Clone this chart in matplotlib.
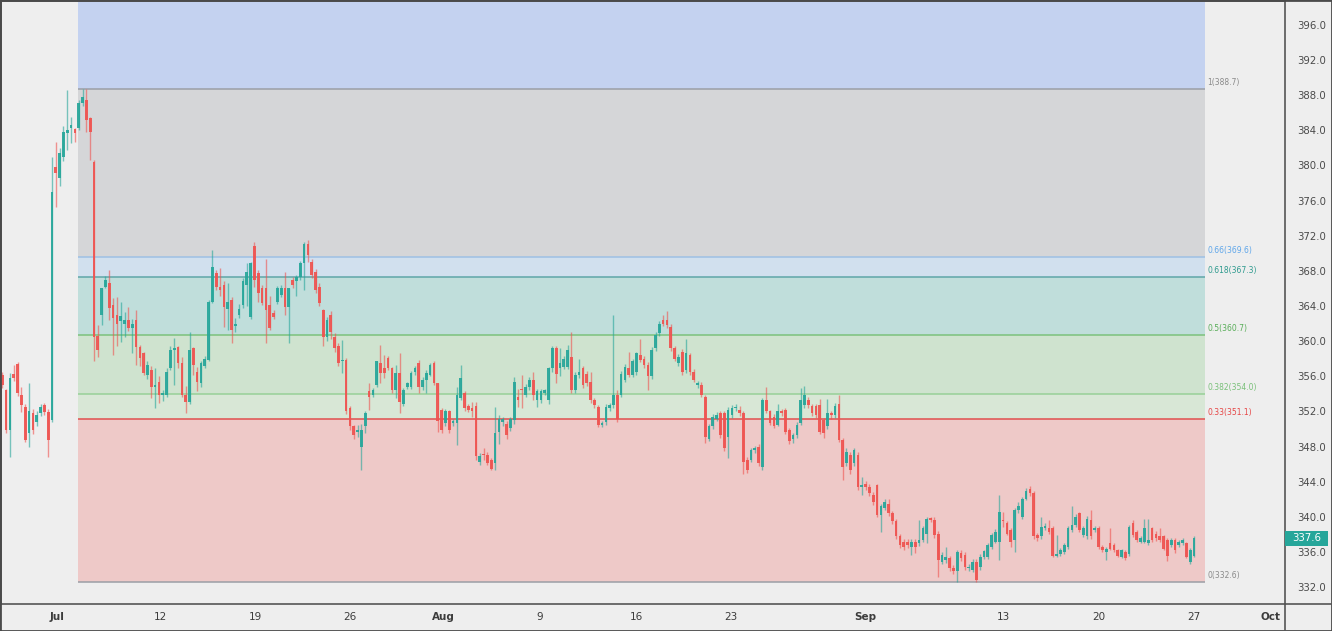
import numpy as np
import matplotlib.pyplot as plt
import matplotlib.transforms as mtransforms
from matplotlib.lines import Line2D
from matplotlib.patches import Rectangle

plt.rcParams['font.family'] = 'DejaVu Sans'

# 313 intraday candles, 1 Jul - 27 Sep
opens = [
    356.1, 354.4, 349.9, 356.3, 357.4, 353.9, 352.5, 349.6, 351.8, 350.8,
    351.8, 352.7, 351.9, 351.0, 379.8, 378.6, 381.0, 383.7, 384.3, 384.1,
    384.3, 387.1, 387.4, 385.4, 380.4, 360.6, 363.0, 366.2, 366.6, 364.1,
    363.0, 362.3, 362.0, 362.4, 361.5, 362.4, 359.3, 358.6, 356.2, 356.7,
    354.8, 355.3, 353.9, 353.9, 356.9, 359.0, 359.3, 357.5, 353.9, 353.1,
    359.2, 356.5, 355.2, 357.2, 357.9, 364.5, 367.7, 366.2, 366.4, 363.7,
    364.7, 361.7, 363.0, 364.1, 366.4, 362.8, 370.8, 367.7, 366.0, 366.0,
    364.1, 363.2, 364.5, 365.3, 366.0, 363.9, 367.0, 366.8, 367.3, 368.9,
    371.0, 369.0, 367.9, 366.2, 363.5, 360.5, 363.0, 360.5, 359.4, 357.7,
    357.9, 352.4, 350.3, 349.7, 348.0, 350.3, 354.3, 353.9, 355.0, 357.5,
    356.9, 358.1, 356.9, 354.5, 356.4, 352.9, 354.8, 354.8, 356.5, 357.5,
    354.8, 355.6, 356.2, 357.5, 355.2, 352.2, 350.7, 352.0, 350.7, 350.7,
    353.5, 354.1, 352.6, 352.4, 352.6, 346.3, 347.2, 347.0, 346.5, 346.1,
    349.7, 350.8, 350.6, 350.1, 351.0, 353.7, 354.6, 353.9, 354.8, 355.6,
    353.3, 353.3, 354.1, 353.3, 356.9, 359.2, 356.9, 357.1, 357.1, 358.2,
    354.4, 356.1, 356.9, 356.3, 355.4, 353.3, 352.5, 350.5, 350.8, 352.4,
    352.7, 353.9, 353.9, 355.6, 356.9, 356.2, 356.5, 358.4, 358.0, 357.3,
    356.0, 359.2, 360.9, 362.4, 362.4, 361.6, 359.2, 357.5, 358.8, 356.7,
    358.4, 356.5, 355.0, 355.0, 353.7, 348.9, 350.3, 351.2, 351.8, 351.8,
    349.1, 351.6, 352.4, 352.2, 351.8, 346.5, 346.5, 347.6, 348.0, 345.7,
    353.3, 352.0, 351.4, 350.5, 352.0, 352.2, 349.9, 348.9, 349.3, 350.7,
    352.7, 353.3, 352.6, 352.6, 352.7, 351.0, 350.3, 351.8, 351.6, 352.9,
    348.8, 346.1, 347.1, 346.1, 347.1, 343.4, 343.8, 343.4, 342.5, 343.6,
    340.2, 341.0, 341.5, 340.4, 339.5, 337.8, 337.2, 337.2, 336.6, 337.2,
    337.0, 337.4, 338.1, 339.8, 339.7, 338.1, 334.9, 335.1, 335.3, 334.2,
    333.8, 335.9, 335.7, 334.2, 334.0, 334.9, 334.3, 335.5, 335.5, 336.6,
    337.2, 337.2, 339.6, 339.3, 338.5, 337.4, 340.8, 340.0, 342.1, 343.2,
    342.7, 338.0, 337.8, 338.7, 338.7, 338.7, 335.6, 335.8, 336.0, 336.6,
    338.5, 339.1, 340.4, 338.0, 337.8, 339.6, 338.5, 338.7, 336.6, 336.0,
    337.0, 336.8, 336.2, 335.5, 336.0, 335.8, 339.3, 338.3, 337.2, 337.2,
    337.0, 338.7, 338.1, 337.8, 337.8, 337.4, 336.8, 337.4, 336.8, 337.0,
    337.0, 334.9, 335.6,
]
highs = [
    356.5, 354.6, 356.4, 357.3, 357.6, 354.8, 352.8, 355.2, 352.3, 352.0,
    352.8, 353.0, 352.3, 381.0, 382.7, 382.0, 384.5, 388.6, 385.5, 384.3,
    387.4, 388.7, 388.7, 385.5, 380.6, 361.8, 366.1, 367.4, 368.1, 364.9,
    365.0, 364.5, 363.3, 363.9, 362.5, 363.5, 359.6, 358.8, 357.7, 357.2,
    356.9, 356.0, 354.5, 356.9, 359.5, 360.4, 359.5, 358.2, 354.9, 361.0,
    359.3, 357.1, 357.7, 358.3, 364.7, 370.4, 368.1, 368.3, 366.8, 366.6,
    365.0, 362.6, 364.2, 367.2, 368.9, 369.0, 371.3, 368.1, 366.4, 369.4,
    365.1, 363.5, 366.3, 366.4, 367.9, 366.0, 367.3, 367.5, 369.1, 371.3,
    371.5, 369.4, 368.2, 366.6, 363.7, 362.8, 363.4, 360.9, 359.8, 360.1,
    358.1, 352.6, 350.5, 350.5, 350.6, 352.0, 355.2, 354.7, 357.7, 359.6,
    358.4, 358.3, 357.1, 357.3, 358.6, 354.7, 355.4, 356.6, 357.2, 357.9,
    355.9, 356.7, 357.5, 357.7, 355.2, 352.4, 352.3, 352.2, 351.2, 354.8,
    357.3, 354.3, 352.8, 353.1, 353.1, 347.3, 347.9, 347.4, 346.7, 352.5,
    351.6, 351.4, 350.9, 351.4, 355.9, 354.6, 356.1, 355.1, 355.9, 356.5,
    354.6, 354.6, 354.6, 357.1, 359.5, 359.5, 359.2, 358.3, 359.6, 361.1,
    356.5, 358.0, 357.2, 356.6, 356.5, 353.5, 352.7, 350.9, 352.8, 353.0,
    363.0, 354.4, 356.6, 357.4, 358.8, 358.0, 358.8, 360.3, 358.3, 357.6,
    359.3, 361.0, 362.3, 363.0, 363.4, 361.9, 359.5, 358.5, 359.1, 360.3,
    358.7, 356.8, 355.5, 355.3, 353.9, 350.6, 351.7, 351.9, 352.1, 352.1,
    352.5, 352.7, 352.9, 352.6, 352.1, 346.8, 347.9, 348.1, 348.3, 353.5,
    354.8, 352.2, 351.7, 352.9, 352.3, 352.4, 350.1, 349.6, 350.8, 354.7,
    354.9, 353.6, 352.9, 352.9, 353.4, 351.3, 353.4, 352.0, 353.0, 353.9,
    349.0, 347.8, 347.4, 347.8, 347.4, 344.6, 344.1, 343.7, 342.8, 343.8,
    341.5, 342.0, 342.1, 340.7, 339.8, 338.1, 337.5, 337.5, 337.5, 337.5,
    339.7, 339.0, 340.0, 340.0, 340.0, 338.4, 336.0, 336.6, 335.6, 334.5,
    336.3, 336.2, 336.0, 334.6, 335.2, 335.2, 335.8, 336.3, 337.0, 338.2,
    338.6, 342.5, 340.6, 339.5, 338.7, 341.0, 341.7, 342.3, 343.3, 343.5,
    343.0, 338.2, 340.0, 339.3, 339.6, 339.0, 337.9, 336.5, 337.0, 339.0,
    341.3, 340.3, 340.6, 339.0, 340.1, 340.8, 339.0, 339.0, 336.8, 336.6,
    338.7, 337.0, 336.4, 336.4, 336.3, 339.1, 339.6, 338.5, 337.8, 339.8,
    339.8, 338.9, 338.4, 338.7, 338.0, 337.6, 337.6, 337.6, 337.4, 337.6,
    337.2, 336.5, 337.8,
]
lows = [
    354.7, 349.5, 346.8, 355.5, 353.8, 351.9, 348.5, 348.0, 349.4, 350.4,
    351.5, 351.6, 346.8, 350.8, 375.3, 377.6, 380.5, 381.7, 382.5, 382.7,
    384.0, 386.8, 383.8, 380.6, 357.7, 358.2, 361.8, 366.0, 362.4, 358.4,
    359.5, 359.9, 360.5, 361.2, 358.6, 357.3, 357.2, 356.1, 355.7, 353.5,
    352.4, 353.0, 353.2, 353.7, 356.7, 355.0, 357.0, 353.6, 351.8, 352.9,
    356.2, 354.3, 354.8, 356.9, 357.7, 364.3, 365.8, 365.1, 361.6, 361.3,
    359.8, 361.0, 362.6, 363.8, 364.0, 362.5, 366.2, 364.5, 364.1, 359.8,
    361.3, 362.5, 364.2, 365.0, 363.0, 359.8, 366.0, 365.1, 367.0, 365.8,
    369.0, 367.2, 365.5, 364.0, 359.4, 360.0, 360.3, 358.8, 357.2, 356.4,
    351.7, 349.9, 348.9, 349.1, 345.3, 349.5, 352.2, 353.6, 354.8, 355.2,
    355.8, 356.7, 354.1, 353.5, 351.8, 352.6, 354.6, 354.6, 356.2, 354.1,
    354.5, 354.1, 356.0, 355.0, 349.7, 349.6, 350.4, 349.6, 350.4, 348.2,
    353.3, 352.1, 351.9, 351.4, 346.5, 345.9, 346.5, 345.9, 345.3, 345.4,
    348.3, 350.4, 348.9, 349.8, 350.6, 352.5, 352.4, 353.6, 354.5, 353.3,
    352.5, 353.0, 353.9, 352.9, 356.5, 355.2, 356.0, 356.8, 356.8, 354.1,
    354.1, 355.8, 354.7, 354.9, 353.0, 352.4, 350.2, 350.2, 350.5, 352.1,
    352.4, 350.8, 353.6, 355.3, 355.9, 355.9, 356.2, 357.6, 357.0, 354.4,
    355.7, 358.9, 360.6, 361.7, 361.5, 358.9, 357.7, 357.2, 356.2, 356.4,
    356.2, 355.3, 354.7, 353.6, 348.4, 348.6, 350.0, 350.9, 349.0, 347.5,
    346.7, 351.3, 352.1, 351.5, 344.9, 345.0, 346.2, 347.3, 345.8, 345.3,
    351.8, 350.5, 350.1, 350.3, 351.5, 349.4, 348.3, 348.4, 349.0, 350.5,
    352.4, 352.4, 351.5, 351.3, 349.4, 349.0, 350.0, 351.2, 351.3, 348.5,
    344.2, 345.8, 344.9, 345.8, 343.1, 342.5, 343.1, 342.4, 341.4, 340.0,
    338.3, 340.8, 340.1, 339.2, 337.5, 336.5, 336.3, 336.5, 335.7, 335.9,
    336.7, 337.1, 337.0, 339.4, 337.6, 333.2, 334.6, 334.8, 333.9, 333.5,
    332.6, 335.0, 334.0, 333.9, 333.7, 332.6, 334.0, 335.2, 335.2, 336.4,
    337.0, 335.1, 338.9, 337.9, 336.6, 336.0, 340.5, 339.8, 341.9, 342.4,
    337.5, 337.3, 337.5, 338.5, 338.1, 335.4, 335.4, 335.6, 335.8, 336.4,
    338.3, 338.9, 338.3, 337.7, 337.5, 337.5, 338.3, 336.4, 336.0, 335.1,
    336.2, 336.0, 335.4, 335.3, 335.1, 335.6, 337.7, 337.2, 337.0, 337.0,
    336.8, 337.2, 337.3, 337.2, 336.2, 335.0, 336.6, 335.9, 336.6, 336.8,
    335.3, 334.7, 335.4,
]
closes = [
    355.0, 349.9, 355.8, 355.8, 354.1, 352.7, 348.8, 352.0, 349.9, 351.6,
    352.5, 351.9, 348.8, 377.0, 379.1, 381.4, 383.8, 384.0, 384.6, 383.7,
    387.1, 387.8, 385.2, 383.8, 360.5, 359.0, 366.0, 367.0, 363.8, 362.6,
    362.0, 362.9, 362.4, 361.5, 362.0, 359.3, 358.1, 356.4, 357.3, 354.8,
    355.0, 353.9, 354.1, 356.5, 359.0, 359.2, 357.5, 353.9, 353.1, 359.0,
    357.3, 355.4, 357.5, 358.0, 364.5, 368.4, 366.2, 365.8, 363.9, 364.5,
    361.3, 362.0, 363.7, 366.8, 367.9, 368.9, 367.0, 365.5, 364.3, 363.6,
    361.5, 362.8, 366.0, 366.0, 363.9, 366.0, 366.4, 367.3, 368.9, 371.0,
    369.8, 367.5, 365.8, 364.3, 360.5, 362.4, 361.1, 359.2, 357.5, 357.9,
    352.0, 350.3, 349.3, 349.9, 349.9, 351.8, 353.7, 354.5, 357.7, 356.4,
    356.4, 356.9, 354.5, 356.4, 353.1, 354.5, 355.2, 356.4, 356.9, 354.8,
    355.6, 356.4, 357.3, 355.2, 350.9, 349.9, 352.0, 349.9, 350.9, 353.9,
    355.8, 352.4, 352.2, 352.0, 346.9, 346.9, 347.0, 346.1, 345.5, 349.5,
    351.2, 351.2, 349.3, 351.2, 355.4, 353.3, 354.4, 354.8, 355.6, 353.9,
    354.3, 354.3, 354.4, 356.9, 359.2, 356.3, 357.5, 358.0, 359.0, 354.4,
    356.1, 356.5, 355.0, 355.2, 353.3, 352.7, 350.5, 350.6, 352.5, 352.7,
    353.9, 351.2, 356.3, 357.1, 356.2, 357.7, 358.6, 357.9, 357.3, 356.0,
    359.0, 360.7, 362.0, 362.0, 361.8, 359.2, 358.0, 358.2, 356.5, 358.6,
    356.5, 355.6, 355.2, 353.9, 349.1, 350.3, 351.4, 351.6, 349.3, 347.8,
    352.2, 352.4, 352.5, 351.8, 346.3, 345.3, 347.6, 347.8, 346.1, 353.3,
    352.0, 350.7, 350.3, 352.0, 351.8, 349.7, 348.6, 349.3, 350.5, 353.3,
    353.9, 352.7, 351.8, 351.6, 349.7, 349.5, 351.8, 351.6, 352.6, 348.8,
    345.7, 347.4, 345.3, 347.6, 343.4, 343.6, 343.4, 342.7, 341.7, 340.2,
    341.2, 341.7, 340.4, 339.5, 337.8, 336.8, 336.6, 336.8, 337.2, 336.6,
    337.4, 338.7, 339.8, 339.7, 337.9, 335.1, 335.7, 335.5, 334.2, 333.8,
    336.0, 335.3, 334.3, 334.3, 334.9, 332.8, 335.5, 336.1, 336.8, 338.0,
    338.3, 340.6, 339.5, 338.1, 337.2, 340.8, 341.2, 342.1, 343.0, 342.7,
    337.8, 337.6, 338.9, 339.0, 338.3, 335.6, 335.8, 336.2, 336.8, 338.7,
    339.1, 340.0, 338.5, 338.7, 339.8, 337.8, 338.7, 336.6, 336.2, 336.4,
    336.4, 336.2, 335.6, 336.2, 335.3, 338.9, 338.0, 337.4, 337.6, 338.7,
    337.4, 337.4, 337.6, 337.4, 336.4, 335.6, 337.4, 336.2, 337.2, 337.4,
    335.5, 336.2, 337.6,
]

# time axis labels at bar positions
tick_pos = [14.3, 41.3, 66.2, 91.0, 115.4, 140.8, 165.9, 190.8, 225.8, 262.2, 287.1, 312.0, 331.9]
tick_labels = ['Jul', '12', '19', '26', 'Aug', '9', '16', '23', 'Sep', '13', '20', '27', 'Oct']
months = ['Jul', 'Aug', 'Sep', 'Oct']

# fibonacci retracement
fib_ratios = ['1', '0.66', '0.618', '0.5', '0.382', '0.33', '0']
fib_prices = [388.7, 369.6, 367.3, 360.7, 354.0, 351.1, 332.6]
fib_line_colors = ['#9b9ea6', '#9dc0e4', '#5fa6a8', '#7cc27c', '#98d098', '#e0504f', '#9b9ea6']
fib_text_colors = ['#8a8a8a', '#5ea6ea', '#2e9a8e', '#58ad58', '#79c079', '#e64545', '#8a8a8a']
fib_zone_colors = ['#c4d2f0', '#d5d6d8', '#d1e0ee', '#c0dedb', '#cfe3cf', '#d8e7d6', '#eec9c8']
fib_start, fib_end = 19.8, 314.9

y_min, y_max = 330.1, 398.7
up_color, down_color = '#26a69a', '#ef5350'

o = np.array(opens)
h = np.array(highs)
l = np.array(lows)
c = np.array(closes)
assert len(o) == len(h) == len(l) == len(c)
x = np.arange(len(c))
h = np.maximum(h, np.maximum(o, c))
l = np.minimum(l, np.minimum(o, c))

fig = plt.figure(figsize=(13.32, 6.31), dpi=100, facecolor='#eeeeee')
ax = fig.add_axes([1 / 1332, 27 / 631, 1284 / 1332, 603 / 631])
ax.set_facecolor('#eeeeee')

# zones
tops = [y_max] + fib_prices[:-1]
for top, bot, col in zip(tops, fib_prices, fib_zone_colors):
    ax.fill_between([fib_start, fib_end], bot, top, color=col, lw=0, zorder=0)
ax.hlines(fib_prices, fib_start, fib_end, colors=fib_line_colors, lw=1.1, zorder=1)
for r, p, col in zip(fib_ratios, fib_prices, fib_text_colors):
    ax.text(fib_end + 0.5, p + 0.25, f'{r}({p:.1f})', color=col, fontsize=5.5,
            va='bottom', ha='left', zorder=2)

# candles
colors = np.where(c >= o, up_color, down_color)
ax.vlines(x, l, h, colors=colors, lw=1.0, alpha=0.6, zorder=3)
body_low = np.minimum(o, c)
body_h = np.maximum(np.abs(c - o), 0.15)
ax.bar(x, body_h, bottom=body_low, width=0.7, color=colors, alpha=0.92, lw=0, zorder=4)

ax.set_xlim(-0.35, 335.8)
ax.set_ylim(y_min, y_max)

ax.yaxis.tick_right()
yt = np.arange(332, 397, 4)
ax.set_yticks(yt, [f'{v:.1f}' for v in yt])
ax.tick_params(axis='y', length=0, pad=8.5, labelsize=7.3, labelcolor='#4a4a4a')
ax.set_xticks(tick_pos, tick_labels)
ax.tick_params(axis='x', length=0, pad=6, labelsize=7.5, labelcolor='#3c3c3c')
for lab in ax.get_xticklabels():
    if lab.get_text() in months:
        lab.set_fontweight('bold')

for s in ax.spines.values():
    s.set_color('#555555')
    s.set_linewidth(1.2)

# last price tag
last = closes[-1]
trans = mtransforms.blended_transform_factory(ax.transAxes, ax.transData)
ax.add_patch(Rectangle((1.0, last - 0.85), 43 / 1284, 1.7, transform=trans,
                       facecolor=up_color, edgecolor='none', clip_on=False, zorder=5))
ax.text(1.0 + 21.5 / 1284, last, f'{last:.1f}', transform=trans, color='white',
        fontsize=7.3, ha='center', va='center', zorder=6)

# panel separators and outer frame
xr = 1285 / 1332
yb = 27 / 631
fig.add_artist(Line2D([xr, 1], [yb, yb], transform=fig.transFigure, color='#555555', lw=1.2))
fig.add_artist(Line2D([xr, xr], [0, yb], transform=fig.transFigure, color='#555555', lw=1.2))
fig.add_artist(Rectangle((0, 0), 1, 1, transform=fig.transFigure, fill=False,
                         edgecolor='#4a4a4a', lw=2))

fig.savefig('out.png', dpi=100, facecolor=fig.get_facecolor())
